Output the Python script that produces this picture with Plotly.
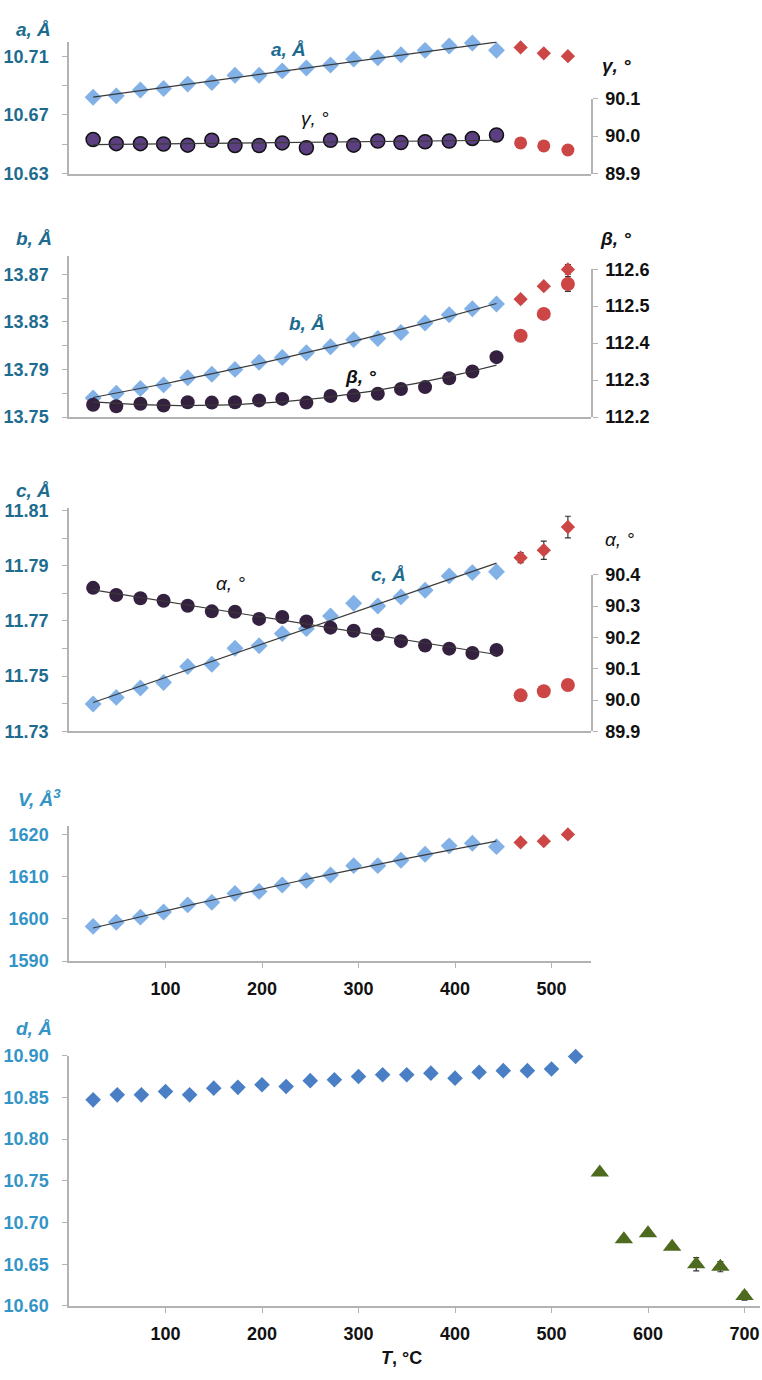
import numpy as np
import plotly.graph_objects as go

# ---------------- data ----------------
# temperatures of the low-temperature (triclinic) points and of the last three points
T_lo = [25, 49, 74, 98, 123, 148, 172, 197, 221, 246, 271, 295, 320, 344, 369, 394, 418, 443]
T_hi = [468, 492, 517]

a_lo = [10.682, 10.683, 10.687, 10.688, 10.691, 10.692, 10.697, 10.697, 10.700, 10.702,
        10.704, 10.708, 10.709, 10.711, 10.714, 10.717, 10.719, 10.714]
a_hi = [10.716, 10.712, 10.710]
a_hi_err = [None, None, 0.002]

gamma_lo = [89.991, 89.980, 89.980, 89.979, 89.976, 89.989, 89.975, 89.975, 89.982, 89.969,
            89.989, 89.976, 89.987, 89.983, 89.985, 89.987, 89.994, 90.003]
gamma_hi = [89.982, 89.974, 89.963]

b_lo = [13.766, 13.770, 13.774, 13.777, 13.783, 13.786, 13.790, 13.796, 13.800, 13.804,
        13.809, 13.815, 13.816, 13.821, 13.829, 13.836, 13.841, 13.845]
b_hi = [13.849, 13.860, 13.874]
b_hi_err = [None, 0.002, 0.004]

beta_lo = [112.233, 112.229, 112.236, 112.231, 112.240, 112.239, 112.240, 112.245, 112.249,
           112.239, 112.257, 112.258, 112.263, 112.276, 112.281, 112.305, 112.323, 112.362]
beta_hi = [112.420, 112.479, 112.560]
beta_hi_err = [None, None, 0.02]

c_lo = [11.7399, 11.7423, 11.7457, 11.7477, 11.7535, 11.7543, 11.7601, 11.7610, 11.7654,
        11.7672, 11.7718, 11.7764, 11.7754, 11.7787, 11.7811, 11.7863, 11.7875, 11.7878]
c_hi = [11.7929, 11.7956, 11.8040]
c_hi_err = [0.0018, 0.0033, 0.0039]

alpha_lo = [90.358, 90.335, 90.325, 90.317, 90.301, 90.283, 90.282, 90.259, 90.265, 90.251,
            90.231, 90.221, 90.209, 90.188, 90.174, 90.164, 90.150, 90.160]
alpha_hi = [90.015, 90.028, 90.048]
alpha_hi_err = [0.008, None, None]

V_lo = [1598.2, 1599.2, 1600.4, 1601.6, 1603.3, 1603.9, 1606.0, 1606.5, 1608.0, 1609.1,
        1610.4, 1612.6, 1612.6, 1613.9, 1615.3, 1617.3, 1617.9, 1617.1]
V_hi = [1618.1, 1618.4, 1620.0]

T_d_lo = [25, 50, 75, 100, 125, 150, 175, 200, 225, 250, 275, 300, 325, 350, 375, 400,
          425, 450, 475, 500, 525]
d_lo = [10.847, 10.853, 10.853, 10.857, 10.853, 10.861, 10.862, 10.865, 10.863, 10.870,
        10.871, 10.875, 10.877, 10.877, 10.879, 10.873, 10.880, 10.882, 10.882, 10.884, 10.899]
T_d_hi = [550, 575, 600, 625, 650, 675, 700]
d_hi = [10.760, 10.680, 10.687, 10.671, 10.650, 10.647, 10.612]
d_hi_err = [0.003, 0.003, None, None, 0.008, 0.006, 0.005]

x_ticks_top = [100, 200, 300, 400, 500]
x_ticks_d = [100, 200, 300, 400, 500, 600, 700]

# ---------------- styling ----------------
W, H = 762, 1380
FONT = "Liberation Sans, Arial, sans-serif"
TEAL = "#1d6c90"
SKY = "#3394c6"
AXIS = "#b3b3b3"
BLUE_LIGHT = "rgba(112,166,226,0.88)"
BLUE_DARK = "#4a7fc6"
RED = "#cc4646"
PURPLE = "#5b3f80"
PURPLE_DARK = "#34213f"
GREEN = "#4d6a1e"
FIT = "#3a3a3a"


def fx(p):
    return p / W


def fy(p):
    return 1 - p / H


def trend(x, y, deg):
    coef = np.polyfit(x, y, deg)
    xs = np.linspace(min(x), max(x), 80)
    return xs, np.polyval(coef, xs)


fig = go.Figure()


def markers(x, y, xa, ya, symbol, size, color, line_color=None, line_w=0, err=None):
    kw = {}
    if err is not None:
        kw["error_y"] = dict(type="data", array=err, color="#333333", thickness=1.2, width=3)
    fig.add_trace(go.Scatter(
        x=x, y=y, xaxis=xa, yaxis=ya, mode="markers", cliponaxis=False,
        marker=dict(symbol=symbol, size=size, color=color,
                    line=dict(color=line_color or color, width=line_w)),
        showlegend=False, hoverinfo="x+y", **kw))


def fitline(x, y, deg, xa, ya):
    xs, ys = trend(x, y, deg)
    fig.add_trace(go.Scatter(x=xs, y=ys, xaxis=xa, yaxis=ya, mode="lines",
                             line=dict(color=FIT, width=1.2), showlegend=False,
                             hoverinfo="skip"))


# panel a: a and gamma
markers(T_lo, a_lo, "x", "y", "diamond", 13, BLUE_LIGHT)
markers(T_hi, a_hi, "x", "y", "diamond", 11, RED, err=a_hi_err)
fitline(T_lo, a_lo, 1, "x", "y")
markers(T_lo, gamma_lo, "x", "y2", "circle", 14, PURPLE, "#111111", 1.5)
markers(T_hi, gamma_hi, "x", "y2", "circle", 13, RED)
fitline(T_lo, gamma_lo, 1, "x", "y2")

# panel b: b and beta
markers(T_lo, b_lo, "x2", "y3", "diamond", 13, BLUE_LIGHT)
markers(T_hi, b_hi, "x2", "y3", "diamond", 11, RED, err=b_hi_err)
fitline(T_lo, b_lo, 2, "x2", "y3")
markers(T_lo, beta_lo, "x2", "y4", "circle", 14, PURPLE_DARK)
markers(T_hi, beta_hi, "x2", "y4", "circle", 14, RED, err=beta_hi_err)
fitline(T_lo, beta_lo, 2, "x2", "y4")

# panel c: c and alpha
markers(T_lo, c_lo, "x3", "y5", "diamond", 13, BLUE_LIGHT)
markers(T_hi, c_hi, "x3", "y5", "diamond", 11, RED, err=c_hi_err)
fitline(T_lo, c_lo, 1, "x3", "y5")
markers(T_lo, alpha_lo, "x3", "y6", "circle", 14, PURPLE_DARK)
markers(T_hi, alpha_hi, "x3", "y6", "circle", 14, RED, err=alpha_hi_err)
fitline(T_lo, alpha_lo, 1, "x3", "y6")

# panel V
markers(T_lo, V_lo, "x4", "y7", "diamond", 13, BLUE_LIGHT)
markers(T_hi, V_hi, "x4", "y7", "diamond", 11, RED)
fitline(T_lo, V_lo, 2, "x4", "y7")

# panel d
markers(T_d_lo, d_lo, "x5", "y8", "diamond", 12, BLUE_DARK)
markers(T_d_hi, d_hi, "x5", "y8", "triangle-up", 16, GREEN, err=d_hi_err)

# ---------------- axes ----------------
X0 = 69
X1_TOP = 591
X1_D = 760
PX_PER_DEG = 0.965

tickfont_l = lambda col: dict(family=FONT, size=18, color=col, weight="bold")
tickfont_r = dict(family=FONT, size=18, color="#111111", weight="bold")


def xaxis(anchor, x1, ticks_vals, show_labels):
    return dict(
        domain=[fx(X0), fx(x1)], range=[0, (x1 - X0) / PX_PER_DEG], anchor=anchor,
        showline=True, linecolor=AXIS, linewidth=1.5, showgrid=False, zeroline=False,
        tickmode="array", tickvals=ticks_vals if show_labels else [],
        ticks="outside" if show_labels else "", ticklen=5, tickcolor=AXIS,
        showticklabels=show_labels,
        tickfont=dict(family=FONT, size=18, color="#111111", weight="bold"),
        ticklabelstandoff=6,
    )


def yleft(anchor, top, bottom, rng, tick0, dtick, fmt, color, minor=None):
    d = dict(
        domain=[fy(bottom), fy(top)], range=rng, anchor=anchor, side="left",
        showline=True, linecolor=AXIS, linewidth=1.5, showgrid=False, zeroline=False,
        tickmode="linear", tick0=tick0, dtick=dtick, tickformat=fmt,
        ticks="outside", ticklen=5, tickcolor=AXIS, tickfont=tickfont_l(color),
        ticklabelstandoff=10,
    )
    if minor:
        d["minor"] = dict(dtick=minor, tick0=tick0, ticks="outside", ticklen=5,
                          tickcolor=AXIS, showgrid=False)
    return d


def yright(anchor, top, bottom, rng, dtick, fmt):
    return dict(
        domain=[fy(bottom), fy(top)], range=rng, anchor=anchor, side="right",
        showline=True, linecolor=AXIS, linewidth=1.5, showgrid=False, zeroline=False,
        tickmode="linear", tick0=rng[0], dtick=dtick, tickformat=fmt,
        ticks="outside", ticklen=5, tickcolor=AXIS, tickfont=tickfont_r,
        ticklabelstandoff=4,
    )


layout = dict(
    width=W, height=H, margin=dict(l=0, r=0, t=0, b=0),
    paper_bgcolor="white", plot_bgcolor="rgba(0,0,0,0)", showlegend=False,
    font=dict(family=FONT),
    xaxis=xaxis("y", X1_TOP, x_ticks_top, False),
    xaxis2=xaxis("y3", X1_TOP, x_ticks_top, False),
    xaxis3=xaxis("y5", X1_TOP, x_ticks_top, False),
    xaxis4=xaxis("y7", X1_TOP, x_ticks_top, True),
    xaxis5=xaxis("y8", X1_D, x_ticks_d, True),
    yaxis=yleft("x", 32, 166, [10.63, 10.72], 10.63, 0.04, ".2f", TEAL, 0.02),
    yaxis2=yright("x", 90, 166, [89.9, 90.1], 0.1, ".1f"),
    yaxis3=yleft("x2", 250, 413, [13.75, 13.885], 13.75, 0.04, ".2f", TEAL, 0.02),
    yaxis4=yright("x2", 263, 413, [112.2, 112.6], 0.1, ".1f"),
    yaxis5=yleft("x3", 505, 732, [11.73, 11.811], 11.73, 0.02, ".2f", TEAL, 0.01),
    yaxis6=yright("x3", 573, 732, [89.9, 90.4], 0.1, ".1f"),
    yaxis7=yleft("x4", 828, 965, [1590, 1622], 1590, 10, "d", SKY),
    yaxis8=yleft("x5", 1061, 1315, [10.60, 10.90], 10.60, 0.05, ".2f", SKY),
)
fig.update_layout(**layout)


# ---------------- text labels ----------------
def label(text, x, y, color, size=19, xanchor="center"):
    fig.add_annotation(text=text, x=fx(x), y=fy(y), xref="paper", yref="paper",
                       xanchor=xanchor, yanchor="middle", showarrow=False,
                       font=dict(family=FONT, size=size, color=color))


label("<b><i>a, Å</i></b>", 14, 20, TEAL, xanchor="left")
label("<b><i>b, Å</i></b>", 14, 232, TEAL, xanchor="left")
label("<b><i>c, Å</i></b>", 14, 488, TEAL, xanchor="left")
label("<b><i>V, Å<sup>3</sup></i></b>", 16, 800, SKY, xanchor="left")
label("<b><i>d, Å</i></b>", 14, 1033, SKY, xanchor="left")

label("<b><i>γ, °</i></b>", 616, 56, "#111111")
label("<b><i>β, °</i></b>", 615, 232, "#111111")
label("<i>α, °</i>", 619, 537, "#111111")

label("<b><i>a, Å</i></b>", 288, 40, TEAL)
label("<i>γ, °</i>", 315, 110, "#111111")
label("<b><i>b, Å</i></b>", 307, 318, TEAL)
label("<b><i>β, °</i></b>", 360, 372, "#111111")
label("<b><i>c, Å</i></b>", 388, 573, TEAL)
label("<i>α, °</i>", 230, 582, "#111111")

label("<b><i>T</i>, °C</b>", 402, 1368, "#111111", size=18)

fig.write_html("out.html")
